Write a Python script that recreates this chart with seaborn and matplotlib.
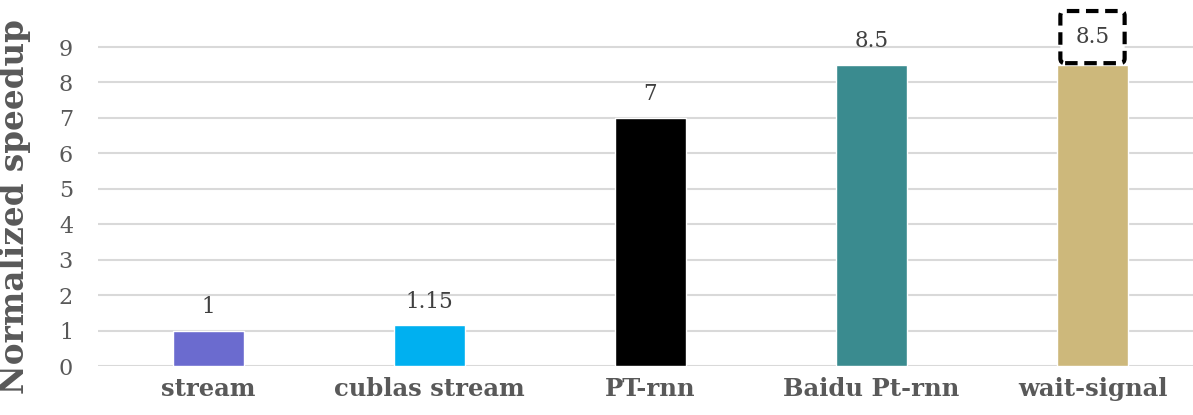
import matplotlib
matplotlib.use("Agg")
import matplotlib.pyplot as plt
import seaborn as sns
import pandas as pd

categories = ["stream", "cublas stream", "PT-rnn", "Baidu Pt-rnn", "wait-signal"]
speedups = [1, 1.15, 7, 8.5, 8.5]
value_labels = ["1", "1.15", "7", "8.5", "8.5"]
bar_colors = ["#6B6BCF", "#00B0F0", "#000000", "#3A8B8F", "#CDB87B"]
y_ticks = [0, 1, 2, 3, 4, 5, 6, 7, 8, 9]

sns.set_theme(style="white")
plt.rcParams["font.family"] = ["DejaVu Serif"]

df = pd.DataFrame({"config": categories, "speedup": speedups})

fig = plt.figure(figsize=(11.93, 4.15), dpi=100)
ax = fig.add_axes([98 / 1193, 49 / 415, 1 - 98 / 1193, 361 / 415])

sns.barplot(data=df, x="config", y="speedup", hue="config",
            palette=bar_colors, width=0.32, legend=False, ax=ax,
            saturation=1, zorder=3)

ax.set_xlim(-0.5, -0.5 + 1095 / 221)
ax.set_ylim(0, 361 / 35.44)
ax.set_yticks(y_ticks)
ax.set_yticklabels([str(t) for t in y_ticks], fontsize=16, color="#595959")
ax.yaxis.grid(True, color="#D9D9D9", linewidth=1.5, zorder=0)
ax.set_axisbelow(True)
for s in ax.spines.values():
    s.set_visible(False)
ax.tick_params(axis="x", length=0, pad=8)
ax.tick_params(axis="y", length=0, pad=18)
for lbl in ax.get_xticklabels():
    lbl.set_fontweight("bold")
    lbl.set_fontsize(17.5)
    lbl.set_color("#595959")
ax.set_xlabel("")
ax.set_ylabel("Normalized speedup", fontsize=23.5, fontweight="heavy",
              color="#595959")
ax.yaxis.set_label_coords(-0.061, 0.443)

for i, (v, txt) in enumerate(zip(speedups, value_labels)):
    kw = {}
    offset = 9
    if i == len(speedups) - 1:
        offset = 12
        kw["bbox"] = dict(boxstyle="round,pad=0.7,rounding_size=0.22",
                          facecolor="white", edgecolor="black",
                          linestyle=(0, (3, 1.6)), linewidth=3)
    ax.annotate(txt, xy=(i, v), xytext=(0, offset),
                textcoords="offset points", ha="center", va="bottom",
                fontsize=15.5, color="#404040", zorder=5, **kw)

fig.savefig("out.png", dpi=100)
